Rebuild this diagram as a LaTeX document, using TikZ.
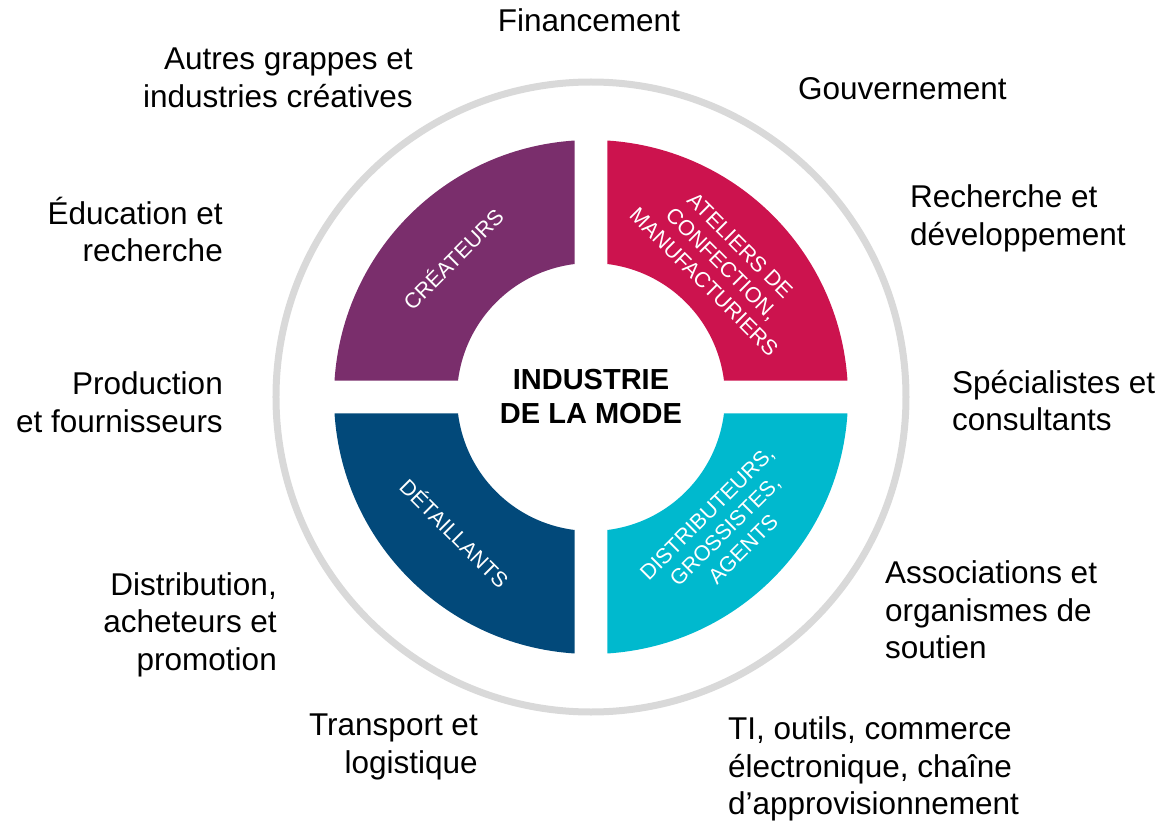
\documentclass[tikz,border=0pt]{standalone}
\usepackage{fontspec}
\setmainfont{Liberation Sans}
\definecolor{createurs}{HTML}{7A2E6C}
\definecolor{ateliers}{HTML}{CC134E}
\definecolor{detaillants}{HTML}{02497A}
\definecolor{distrib}{HTML}{00B9CE}
\definecolor{anneau}{HTML}{D9D9D9}
\newcommand{\rext}{257pt}
\newcommand{\rint}{134pt}
\tikzset{
  lbl/.style={font=\fontsize{31.5}{37.5}\selectfont, inner sep=0pt},
  quart/.style={font=\fontsize{21.5}{25.5}\selectfont, text=white, align=center, inner sep=0pt}
}

\begin{document}
\begin{tikzpicture}[x=1pt,y=1pt]
    \useasboundingbox (-591,-425) rectangle (579,397);
    % anneau gris
    \draw[anneau, line width=7pt] (0,0) circle[radius=315pt];
    % quatre quartiers
    \foreach \coul/\ang in {ateliers/0, createurs/90, detaillants/180, distrib/270}
        \fill[\coul, rotate=\ang] (3.68:\rext) arc[start angle=3.68, end angle=86.32, radius=\rext]
            -- (82.93:\rint) arc[start angle=82.93, end angle=7.07, radius=\rint] -- cycle;
    \node[quart, rotate=45] (crea) at (135:196) {CRÉATEURS};
    \node[quart, rotate=-45] (atel) at (45.5:187) {ATELIERS DE\\CONFECTION,\\MANUFACTURIERS};
    \node[quart, rotate=-45] (detail) at (225:192) {DÉTAILLANTS};
    \node[quart, rotate=45] (dist) at (315:189.5) {DISTRIBUTEURS,\\GROSSISTES,\\AGENTS};
    \node[font=\bfseries\fontsize{29}{34}\selectfont, align=center, inner sep=0pt] (centre) at (0,0) {INDUSTRIE\\DE LA MODE};
    % partenaires autour
    \node[lbl] (fin) at (-2,372.5) {\strut Financement\strut};
    \node[lbl, align=right, anchor=east] (autres) at (-178,316) {\strut Autres grappes et\\industries créatives\strut};
    \node[lbl, anchor=west] (gouv) at (207,305.2) {\strut Gouvernement\strut};
    \node[lbl, align=left, anchor=west] (rd) at (319,178) {\strut Recherche et\\développement\strut};
    \node[lbl, align=right, anchor=east] (educ) at (-368,162) {\strut Éducation et\\recherche\strut};
    \node[lbl, align=right, anchor=east] (prod) at (-368,-9) {\strut Production\\et fournisseurs\strut};
    \node[lbl, align=left, anchor=west] (spec) at (361,-7.5) {\strut Spécialistes et\\consultants\strut};
    \node[lbl, align=right, anchor=east] (distr) at (-314,-228) {\strut Distribution,\\acheteurs et\\promotion\strut};
    \node[lbl, align=left, anchor=west] (assoc) at (294,-216.5) {\strut Associations et\\organismes de\\soutien\strut};
    \node[lbl, align=right, anchor=east] (transp) at (-113,-350) {\strut Transport et\\logistique\strut};
    \node[lbl, align=left, anchor=west] (ti) at (137,-372.5) {\strut TI, outils, commerce\\électronique, chaîne\\d’approvisionnement\strut};
\end{tikzpicture}
\end{document}
